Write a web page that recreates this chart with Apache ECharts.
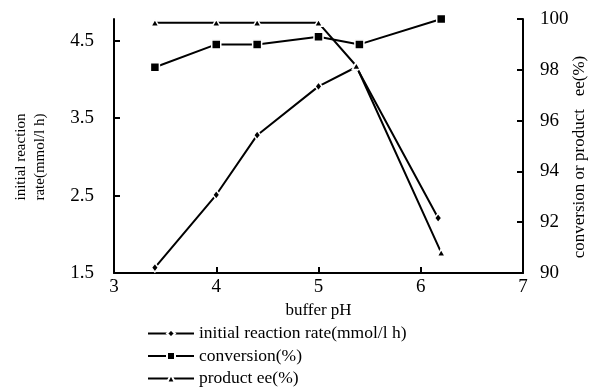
<!DOCTYPE html>
<html>
<head>
<meta charset="utf-8">
<script src="https://cdn.jsdelivr.net/npm/echarts@6/dist/echarts.min.js"></script>
<style>html,body{margin:0;padding:0;background:#fff}#c{width:593px;height:388px}</style>
</head>
<body>
<div id="c"></div>
<script>
// Data
const phRate = [3.4, 4.0, 4.4, 5.0, 5.37, 6.17];
const rate = [1.57, 2.51, 3.28, 3.91, 4.16, 2.21];
const phConv = [3.4, 4.0, 4.4, 5.0, 5.4, 6.2];
const conversion = [98.1, 99.0, 99.0, 99.3, 99.0, 100];
const phEe = [3.4, 4.0, 4.4, 5.0, 5.37, 6.2];
const ee = [99.85, 99.85, 99.85, 99.85, 98.15, 90.8];
const leftTicks = [1.5, 2.5, 3.5, 4.5];
const seriesNames = ['initial reaction rate(mmol/l h)', 'conversion(%)', 'product ee(%)'];

const pairs = (xs, ys) => xs.map((x, i) => [x, ys[i]]);
const FONT = 'Liberation Serif';
const axisLine = { lineStyle: { color: '#000', width: 2 } };
const tick = { inside: true, length: 6, lineStyle: { color: '#000', width: 2 } };
const mk = (name, data, yIdx, symbol, size) => ({
  name, type: 'line', data, yAxisIndex: yIdx, symbol, symbolSize: size,
  lineStyle: { color: '#000', width: 2 },
  itemStyle: { color: '#000', borderColor: '#fff', borderWidth: 1.5 },
  emphasis: { disabled: true }, animation: false, z: 3
});

const chart = echarts.init(document.getElementById('c'));
chart.setOption({
  animation: false,
  backgroundColor: '#fff',
  textStyle: { fontFamily: FONT, color: '#000' },
  grid: { left: 114, right: 70, top: 19, bottom: 115 },
  xAxis: {
    type: 'value', min: 3, max: 7, interval: 1,
    name: 'buffer pH', nameLocation: 'middle', nameGap: 29,
    nameTextStyle: { fontFamily: FONT, fontSize: 17, color: '#000' },
    axisLine, axisTick: tick, splitLine: { show: false },
    axisLabel: { fontFamily: FONT, fontSize: 19, color: '#000', margin: 5 }
  },
  yAxis: [
    {
      type: 'value', min: 1.5, max: 4.78, position: 'left',
      axisLine: { show: true, lineStyle: { color: '#000', width: 2 } },
      axisTick: Object.assign({ customValues: leftTicks }, tick),
      splitLine: { show: false },
      axisLabel: { customValues: leftTicks, fontFamily: FONT, fontSize: 19, color: '#000', margin: 20,
        formatter: v => v.toFixed(1) }
    },
    {
      type: 'value', min: 90, max: 100, interval: 2, position: 'right',
      axisLine: { show: true, lineStyle: { color: '#000', width: 2 } },
      axisTick: tick, splitLine: { show: false },
      axisLabel: { fontFamily: FONT, fontSize: 19, color: '#000', margin: 17 }
    }
  ],
  legend: {
    orient: 'vertical', left: 147, top: 324.5, height: 120, padding: 0,
    itemWidth: 46, itemHeight: 10, itemGap: 4.5,
    textStyle: { fontFamily: FONT, fontSize: 17.5, lineHeight: 17, color: '#000' },
    data: seriesNames, selectedMode: false
  },
  graphic: [
    { type: 'text', x: 31, y: 157, rotation: Math.PI / 2,
      style: { text: 'initial reaction\nrate(mmol/l h)', font: '15px "Liberation Serif"', fill: '#000',
        align: 'center', verticalAlign: 'middle', lineHeight: 19 } },
    { type: 'text', x: 580, y: 157, rotation: Math.PI / 2,
      style: { text: 'conversion or product   ee(%)', font: '17px "Liberation Serif"', fill: '#000',
        align: 'center', verticalAlign: 'middle' } }
  ],
  series: [
    mk(seriesNames[0], pairs(phRate, rate), 0, 'diamond', [7, 9]),
    mk(seriesNames[1], pairs(phConv, conversion), 1, 'rect', 9),
    mk(seriesNames[2], pairs(phEe, ee), 1, 'triangle', [8, 7])
  ]
});
</script>
</body>
</html>
